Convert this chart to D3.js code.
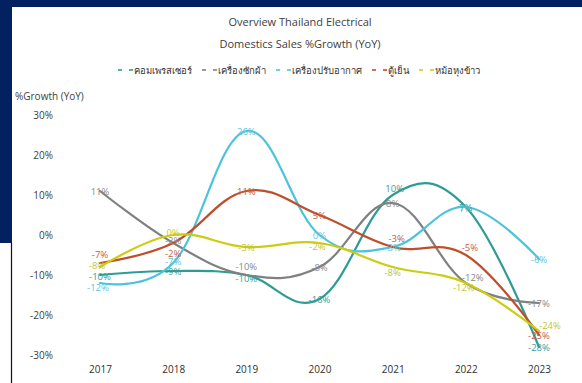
<!DOCTYPE html>
<html>
<head>
<meta charset="utf-8">
<script src="https://cdn.jsdelivr.net/npm/d3@7"></script>
<style>
  html, body { margin: 0; padding: 0; background: #fff; }
  svg { display: block; }
  text { font-family: "Open Sans", "Noto Sans", sans-serif; }
</style>
</head>
<body>
<script>
// Year-on-year sales growth (%) of Thai electrical domestic appliances
const years = ["2017", "2018", "2019", "2020", "2021", "2022", "2023"];
const compressor = [-10, -9, -10, -16, 10, 7, -28];
const washingMachine = [11, -2, -10, -8, 8, -12, -17];
const airConditioner = [-12, -7, 26, 0, -3, 7, -6];
const refrigerator = [-7, -2, 11, 5, -3, -5, -25];
const riceCooker = [-8, 0, -3, -2, -8, -12, -24];
const seriesNames = ["คอมเพรสเซอร์", "เครื่องซักผ้า", "เครื่องปรับอากาศ", "ตู้เย็น", "หม้อหุงข้าว"];
const yTicks = [30, 20, 10, 0, -10, -20, -30];

const W = 582, H = 383;
const colors = ["#2e9b95", "#808080", "#4bc3dc", "#bf4f2c", "#cccc10"];
const labelColors = ["#3a9d99", "#8a8a8a", "#5ec6de", "#c0604a", "#c4c430"];

const series = [compressor, washingMachine, airConditioner, refrigerator, riceCooker]
  .map((values, i) => ({ name: seriesNames[i], values, color: colors[i], labelColor: labelColors[i] }));

// small offsets to keep crowded value labels readable (series index -> year -> [dx, dy])
const labelNudge = {
  0: { "2017": [0, 1], "2019": [0, 3], "2021": [2, -7] },
  1: { "2018": [0, -3], "2019": [0, -9], "2022": [7, -6] },
  2: { "2017": [-2, 4], "2018": [0, -2], "2022": [0, 1] },
  3: { "2017": [0, -9], "2018": [0, 10], "2021": [4, -9], "2022": [4, -8] },
  4: { "2017": [-3, -2], "2018": [0, -3], "2020": [-2, 3], "2021": [0, 5], "2022": [-2, 4], "2023": [11, -6] }
};

const svg = d3.select("body").append("svg").attr("width", W).attr("height", H);

// slide frame
svg.append("rect").attr("x", 0).attr("y", 0).attr("width", W).attr("height", 7).attr("fill", "#022160");
svg.append("rect").attr("x", 0).attr("y", 0).attr("width", 12).attr("height", 243).attr("fill", "#022160");
svg.append("line").attr("x1", 11.5).attr("x2", 11.5).attr("y1", 243).attr("y2", H)
  .attr("stroke", "#111").attr("stroke-width", 1.2);

const x = d3.scalePoint().domain(years).range([100, 539]);
const y = d3.scaleLinear().domain([-30, 30]).range([355, 115]);

// title
const title = svg.append("text").attr("text-anchor", "middle").attr("fill", "#404040")
  .style("font-size", "11px");
title.append("tspan").attr("x", 300).attr("y", 26).text("Overview Thailand Electrical");
title.append("tspan").attr("x", 300).attr("y", 48).text("Domestics Sales %Growth (YoY)");

// y-axis caption
svg.append("text").attr("x", 15).attr("y", 100).attr("fill", "#404040")
  .style("font-size", "10px").text("%Growth (YoY)");

// axes (labels only)
const yAxis = svg.append("g").attr("transform", "translate(53,0)")
  .call(d3.axisLeft(y).tickValues(yTicks).tickFormat(d => d + "%").tickSize(0).tickPadding(0));
yAxis.select(".domain").remove();
yAxis.selectAll("text").attr("fill", "#404040").style("font-size", "10px")
  .style("font-family", "'Open Sans', sans-serif");

const xAxis = svg.append("g").attr("transform", "translate(0,362)")
  .call(d3.axisBottom(x).tickSize(0).tickPadding(4));
xAxis.select(".domain").remove();
xAxis.selectAll("text").attr("fill", "#303030").style("font-size", "10px")
  .style("font-family", "'Open Sans', sans-serif");

// smoothed lines
const line = d3.line()
  .x((d, i) => x(years[i]))
  .y(d => y(d))
  .curve(d3.curveCardinal.tension(-0.15));

svg.append("g").selectAll("path").data(series).join("path")
  .attr("d", d => line(d.values))
  .attr("fill", "none")
  .attr("stroke", d => d.color)
  .attr("stroke-width", 2.2)
  .attr("stroke-linecap", "round");

// value labels
const labelG = svg.append("g");
series.forEach((s, si) => {
  s.values.forEach((v, i) => {
    const nudge = (labelNudge[si] && labelNudge[si][years[i]]) || [0, 0];
    labelG.append("text")
      .attr("x", x(years[i]) + nudge[0])
      .attr("y", y(v) + nudge[1])
      .attr("text-anchor", "middle")
      .attr("dominant-baseline", "central")
      .attr("fill", s.labelColor)
      .style("font-size", "9.5px")
      .text(v + "%");
  });
});

// legend
const legend = svg.append("g").attr("transform", "translate(0,70)");
const items = [];
series.forEach(s => {
  const g = legend.append("g");
  g.append("line").attr("x1", 0).attr("x2", 4).attr("y1", 0).attr("y2", 0)
    .attr("stroke", s.color).attr("stroke-width", 1.6);
  g.append("line").attr("x1", 11).attr("x2", 15).attr("y1", 0).attr("y2", 0)
    .attr("stroke", s.color).attr("stroke-width", 1.6);
  const t = g.append("text").attr("x", 16).attr("y", 0).attr("dominant-baseline", "central")
    .attr("fill", "#333").style("font-size", "9.5px").text(s.name);
  items.push({ g, w: 16 + t.node().getComputedTextLength() });
});
const gap = 10;
const total = d3.sum(items, d => d.w) + gap * (items.length - 1);
let lx = 299 - total / 2;
items.forEach(it => {
  it.g.attr("transform", `translate(${lx},0)`);
  lx += it.w + gap;
});
</script>
</body>
</html>
